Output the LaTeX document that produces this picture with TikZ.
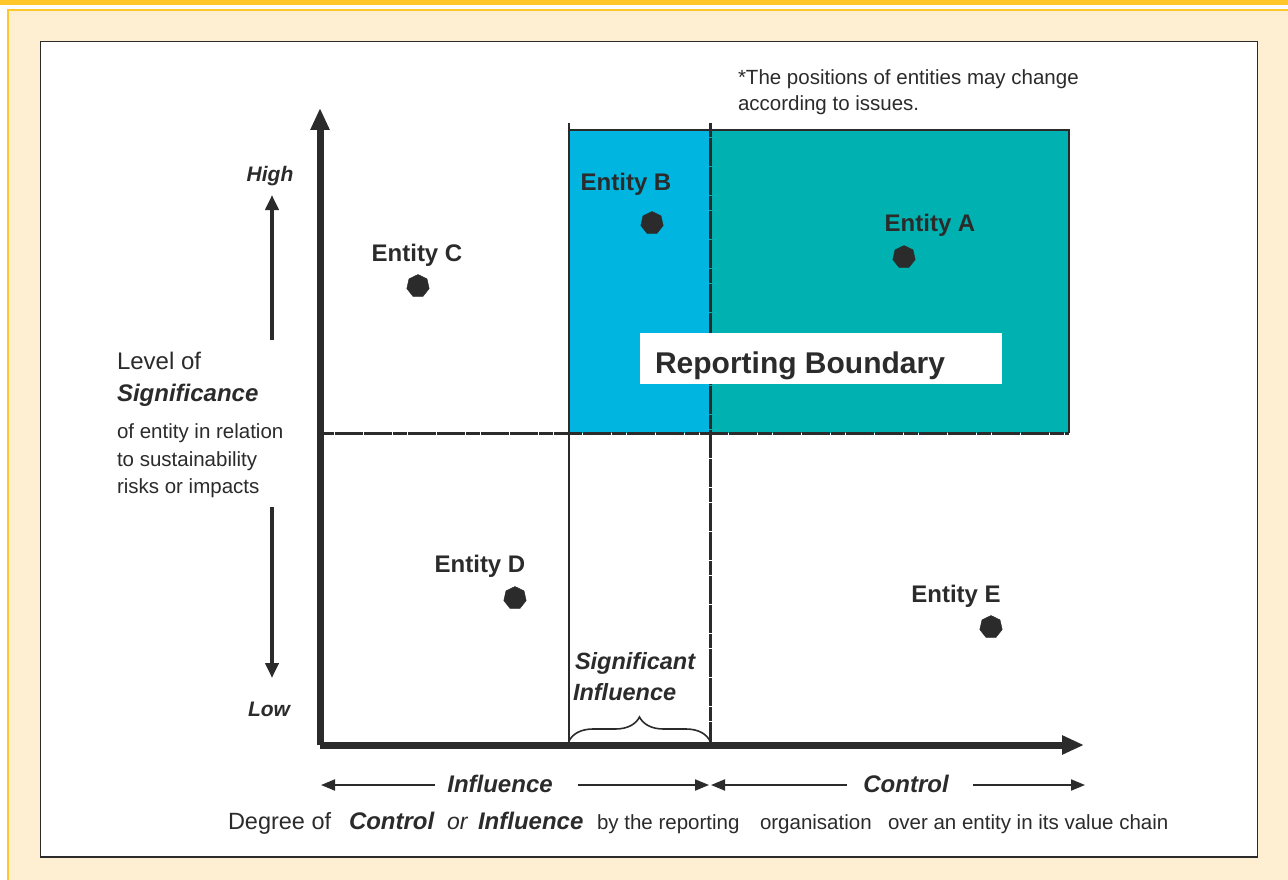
\documentclass[tikz,border=0pt]{standalone}
\usepackage{fontspec}
\setmainfont{Liberation Sans}
\usetikzlibrary{arrows.meta,decorations.pathreplacing,shapes.geometric}
\definecolor{ink}{HTML}{2B2B2B}
\definecolor{gold}{HTML}{FFC72C}
\definecolor{cream}{HTML}{FFEFD2}
\definecolor{sky}{HTML}{00B5DF}
\definecolor{tealbox}{HTML}{00B1B1}
\tikzset{
  txt/.style={text=ink, inner sep=0pt, outer sep=0pt},
  entlabel/.style={txt, anchor=base, font=\bfseries\fontsize{24}{28}\selectfont},
  dot/.style={regular polygon, regular polygon sides=7, fill=ink, draw=ink, minimum size=23pt, inner sep=0pt},
  axisline/.style={ink, line width=7pt, -{Triangle[length=22pt,width=18pt]}},
  sigarrow/.style={ink, line width=4pt, -{Triangle[length=15pt,width=13pt]}},
  degarrow/.style={ink, line width=2pt, -{Triangle[length=14pt,width=11pt]}},
  bi/.style={txt, font=\bfseries\itshape\fontsize{24}{28}\selectfont},
  reg/.style={txt, font=\fontsize{20.5}{24}\selectfont},
  dashline/.style={ink, line width=3pt, dash pattern=on 14pt off 0.6pt},
}
\begin{document}
\begin{tikzpicture}[x=1pt,y=-1pt]
\useasboundingbox (0,0) rectangle (1288,880);
% background frame
\fill[white] (0,0) rectangle (1288,880);
\fill[gold] (0,0) rectangle (1288,4.7);
\fill[cream] (8,10) rectangle (1288,880);
\draw[gold, line width=2pt] (8.3,880) -- (8.3,10.3) -- (1288,10.3);
\draw[ink, line width=1.3pt, fill=white] (40.5,41.5) rectangle (1257.5,857);

% coordinates
\coordinate (O) at (320,745);
\coordinate (ytop) at (320,108);
\coordinate (xend) at (1084,745);
\coordinate (s1t) at (569,123);
\coordinate (s1b) at (569,745);
\coordinate (s2t) at (710,123);
\coordinate (s2b) at (710,745);
\coordinate (tr) at (1069,130);
\coordinate (br) at (1069,433);
\coordinate (mid) at (320,433);

% coloured boxes
\fill[sky] (569,130) rectangle (710,433);
\fill[tealbox] (710,130) rectangle (1069,433);
\draw[ink, line width=2.6pt] (569,130) -- (tr) -- (br);
\draw[dashline] (mid) -- (br);
\draw[ink, line width=1.5pt] (s1t) -- (s1b);
\draw[dashline] (s2t) -- (s2b);

% Reporting boundary label
\node[fill=white, draw=white, minimum width=361pt, minimum height=50pt, anchor=north west, inner sep=0pt] (rbbox) at (640,333) {};
\node[txt, anchor=base west, font=\bfseries\fontsize{30}{34}\selectfont] (rb) at (655,373) {Reporting Boundary};

% axes
\draw[axisline] (O) -- (ytop);
\draw[axisline] (O) -- (xend);

% entities
\node[dot] (dB) at (652,223) {};
\node[dot] (dA) at (904,257) {};
\node[dot] (dC) at (418,286) {};
\node[dot] (dD) at (515,598) {};
\node[dot] (dE) at (991,627) {};
\node[entlabel] (lB) at (626,190) {Entity B};
\node[entlabel] (lA) at (930,231) {Entity A};
\node[entlabel] (lC) at (417,261) {Entity C};
\node[entlabel] (lD) at (480,572) {Entity D};
\node[entlabel] (lE) at (956,602) {Entity E};

% note
\node[reg, anchor=base west] (n1) at (738,85) {*The positions of entities may change};
\node[reg, anchor=base west] (n2) at (738,111) {according to issues.};

% significance scale
\node[txt, anchor=base, font=\bfseries\itshape\fontsize{21}{24}\selectfont] (high) at (270,182) {High};
\node[txt, anchor=base, font=\bfseries\itshape\fontsize{21}{24}\selectfont] (low) at (269,716) {Low};
\coordinate (ua) at (272,340);
\coordinate (ub) at (272,195);
\coordinate (da) at (272,507);
\coordinate (db) at (272,678);
\draw[sigarrow] (ua) -- (ub);
\draw[sigarrow] (da) -- (db);
\node[txt, anchor=base west, font=\fontsize{24}{28}\selectfont] (lv1) at (117,369) {Level of};
\node[bi, anchor=base west] (lv2) at (117,401) {Significance};
\node[reg, anchor=base west] (lv3) at (117,438) {of entity in relation};
\node[reg, anchor=base west] (lv4) at (117,466) {to sustainability};
\node[reg, anchor=base west] (lv5) at (117,493) {risks or impacts};

% significant influence brace
\draw[ink, line width=1.6pt, decorate, decoration={brace, amplitude=24pt, aspect=0.5}] (569,741) -- (710,741);
\node[bi, anchor=base west, font=\bfseries\itshape\fontsize{23.5}{26}\selectfont] (si1) at (575,669) {Significant};
\node[bi, anchor=base west, font=\bfseries\itshape\fontsize{23.5}{26}\selectfont] (si2) at (573,700) {Influence};

% influence / control arrows
\node[bi, anchor=base] (inf) at (500,792) {Influence};
\node[bi, anchor=base] (ctl) at (906,792) {Control};
\coordinate (a1s) at (435,785);
\coordinate (a1e) at (321,785);
\coordinate (a2s) at (578,785);
\coordinate (a2e) at (709,785);
\coordinate (a3s) at (847,785);
\coordinate (a3e) at (711,785);
\coordinate (a4s) at (973,785);
\coordinate (a4e) at (1085,785);
\draw[degarrow] (a1s) -- (a1e);
\draw[degarrow] (a2s) -- (a2e);
\draw[degarrow] (a3s) -- (a3e);
\draw[degarrow] (a4s) -- (a4e);

% bottom caption
\node[txt, anchor=base west, font=\fontsize{23.5}{26}\selectfont] (c1) at (228,829) {Degree of};
\node[bi, anchor=base west] (c2) at (349,829) {Control};
\node[txt, anchor=base west, font=\itshape\fontsize{23}{26}\selectfont] (c3) at (447,829) {or};
\node[bi, anchor=base west] (c4) at (478,829) {Influence};
\node[reg, anchor=base west] (c5) at (597,829) {by the reporting};
\node[reg, anchor=base west] (c6) at (760,829) {organisation};
\node[reg, anchor=base west] (c7) at (888,829) {over an entity in its value chain};
\end{tikzpicture}
\end{document}
